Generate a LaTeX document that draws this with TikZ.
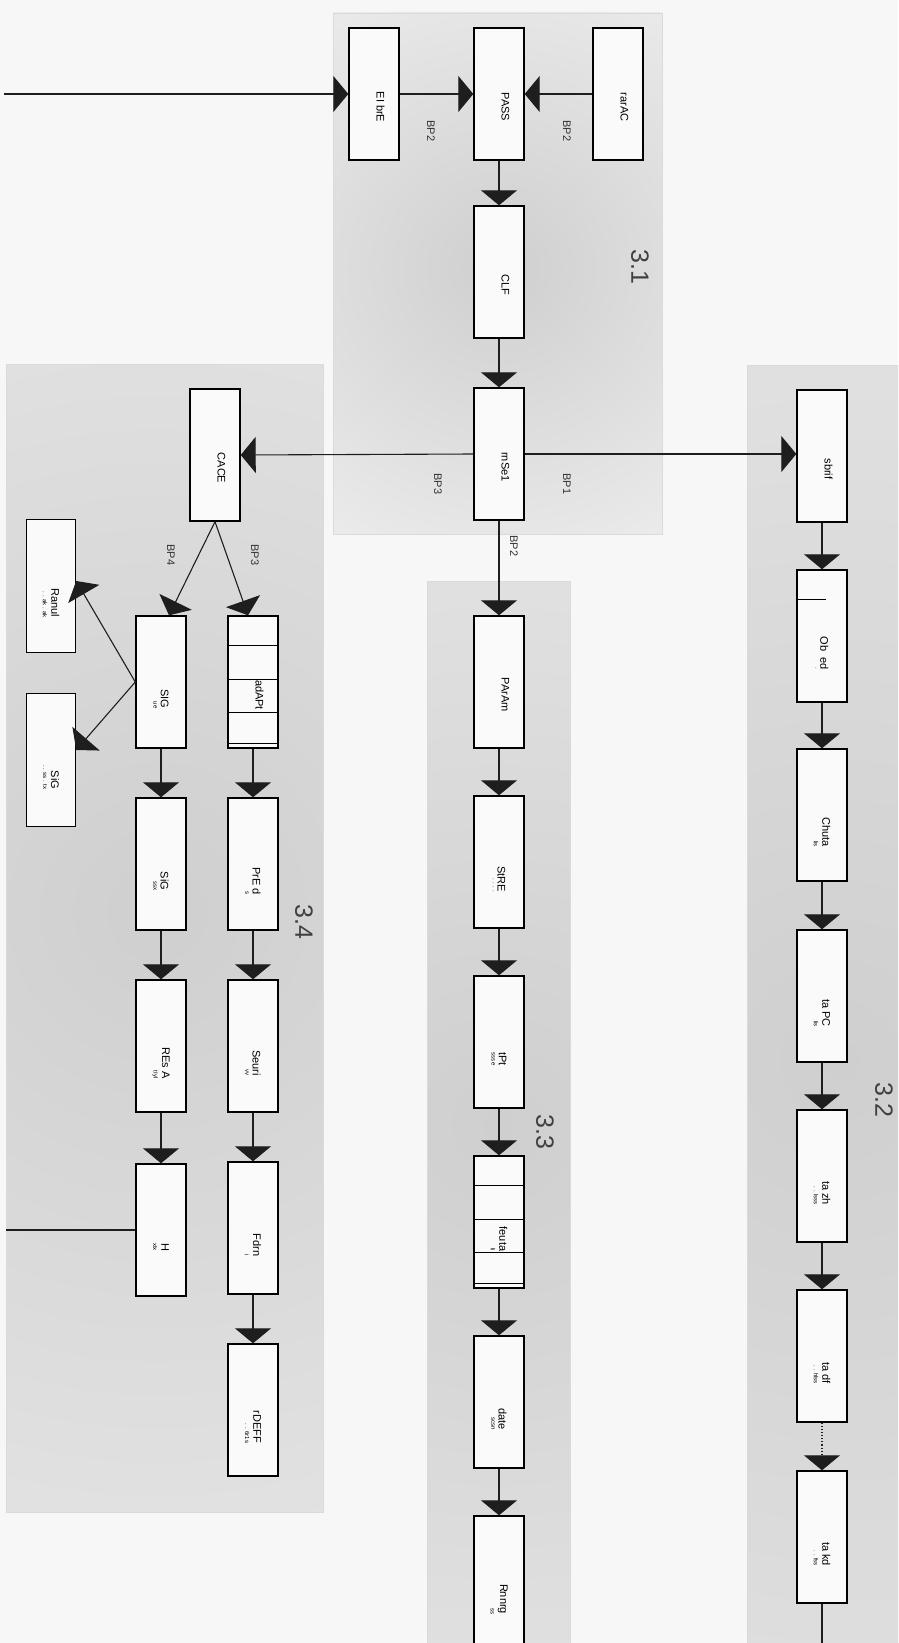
\documentclass[tikz,border=0pt]{standalone}
\usepackage{fontspec}
\setmainfont{Liberation Sans}
\usetikzlibrary{arrows.meta,calc}

\definecolor{pagebg}{HTML}{F7F7F7}
\definecolor{panelbg}{HTML}{EDEDED}
\definecolor{panelcore}{HTML}{CFCFCF}
\definecolor{panelline}{HTML}{DADADA}
\definecolor{boxfill}{HTML}{FAFAFA}
\definecolor{wire}{HTML}{1E1E1E}

\tikzset{
  stepbox/.style={draw=black, line width=1.4pt, fill=boxfill,
    minimum width=50pt, minimum height=132pt, inner sep=0pt,
    font=\fontsize{11}{12}\selectfont},
  smallbox/.style={stepbox, minimum width=49pt, minimum height=133pt},
  flow/.style={draw=wire, line width=1.1pt, -{Triangle[width=36pt,length=15pt]}},
  plain/.style={draw=wire, line width=1.1pt},
  divider/.style={draw=black, line width=1pt},
  bplabel/.style={font=\fontsize{11}{12}\selectfont, text=black!80, rotate=-90},
  paneltitle/.style={font=\fontsize{25}{27}\selectfont, text=black!75, rotate=-90},
  panelframe/.style={draw=panelline, line width=0.8pt},
}

% rotated caption inside a box: main word with a smaller second line
\newcommand{\boxcap}[2]{\rotatebox{-90}{\hspace*{34pt}\shortstack[r]{#1\\[1pt]{\fontsize{6}{6}\selectfont #2}}}}
\newcommand{\boxcapone}[1]{\rotatebox{-90}{\raisebox{13pt}{\hspace*{26pt}#1}}}

% a grey panel with a soft radial darkening
\newcommand{\shadedpanel}[5]{%
  \begin{scope}
    \clip (#1) rectangle (#2);
    \fill[panelbg] (#1) rectangle (#2);
    \shade[inner color=panelcore, outer color=panelbg] (#3,#4) circle[radius=#5pt];
  \end{scope}
  \draw[panelframe] (#1) rectangle (#2);
}

\begin{document}
\begin{tikzpicture}[x=1pt, y=-1pt]
  \useasboundingbox (0,0) rectangle (898,1643);
  \clip (0,0) rectangle (898,1643);
  \fill[pagebg] (0,0) rectangle (898,1643);

  % panels
  \shadedpanel{333,13}{662,534}{500}{268}{340}
  \shadedpanel{6,364}{323,1512}{157}{912}{1000}
  \shadedpanel{427,581}{570,1680}{498}{1125}{940}
  \shadedpanel{747,365}{940,1680}{840}{1060}{1200}

  % panel numbers
  \node[paneltitle] (t31) at (640,267) {3.1};
  \node[paneltitle] (t32) at (884,1100) {3.2};
  \node[paneltitle] (t33) at (545,1132) {3.3};
  \node[paneltitle] (t34) at (304,922) {3.4};

  % 3.1
  \node[stepbox] (eibr)  at (374,94)  {\boxcapone{EI brE}};
  \node[stepbox] (pass)  at (499,94)  {\boxcapone{PASS}};
  \node[stepbox] (rarac) at (618,94)  {\boxcapone{rarAC}};
  \node[stepbox] (clf)   at (499,272) {\boxcapone{CLF}};
  \node[stepbox] (rnsel) at (499,454) {\boxcapone{rnSe1}};

  % 3.3
  \node[stepbox] (param) at (499,682)  {\boxcapone{PArAm}};
  \node[stepbox] (stre)  at (499,862)  {\boxcap{StRE}{. . . .}};
  \node[stepbox] (tpt)   at (499,1042) {\boxcap{tPt}{sss e}};
  \node[stepbox] (feuta) at (499,1222) {\boxcap{feuta}{li}};
  \node[stepbox] (date)  at (499,1402) {\boxcap{date}{scsn}};
  \node[stepbox] (rnnrg) at (499,1582) {\boxcap{Rnnrg}{ss}};

  % 3.2
  \node[stepbox] (sbrif) at (822,456)  {\boxcapone{sbrif}};
  \node[stepbox] (ob)    at (822,636)  {\boxcap{Ob \ ed}{.}};
  \node[stepbox] (chuta) at (822,815)  {\boxcap{Chuta}{lis}};
  \node[stepbox] (tapc)  at (822,996)  {\boxcap{ta PC}{lis}};
  \node[stepbox] (tazh)  at (822,1176) {\boxcap{ta zh}{. . lsss}};
  \node[stepbox] (tadf)  at (822,1356) {\boxcap{ta df}{. . hlss}};
  \node[stepbox] (takd)  at (822,1537) {\boxcap{ta kd}{. . fss}};

  % 3.4
  \node[stepbox] (caca)  at (215,455)  {\boxcapone{CACE}};
  \node[stepbox] (sig)   at (161,682)  {\boxcap{SIG}{ue}};
  \node[stepbox] (adapt) at (253,682)  {\boxcapone{adAPt}};
  \node[stepbox] (sigb)  at (161,864)  {\boxcap{SiG}{ssx}};
  \node[stepbox] (pred)  at (253,864)  {\boxcap{PrE d}{s}};
  \node[stepbox] (resa)  at (161,1046) {\boxcap{REs A}{tIyl}};
  \node[stepbox] (seuri) at (253,1046) {\boxcap{Seuri}{vv}};
  \node[stepbox] (hbox)  at (161,1230) {\boxcap{H}{xIx}};
  \node[stepbox] (fdrn)  at (253,1228) {\boxcap{Fdrn}{i}};
  \node[stepbox] (rdeff) at (253,1410) {\boxcap{rDEFF}{. . 6r1s}};
  \node[smallbox] (ranul) at (51,586)  {\boxcap{Ranul}{. . ak . ak}};
  \node[smallbox] (sigs)  at (51,760)  {\boxcap{SiG}{. . ss . tx}};

  % partitions inside the segmented boxes
  \foreach \d in {30,64,97,128} {
    \draw[divider] ([yshift=-\d pt]adapt.north west) -- ([yshift=-\d pt]adapt.north east);
    \draw[divider] ([yshift=-\d pt]feuta.north west) -- ([yshift=-\d pt]feuta.north east);
  }
  \draw[divider] ([yshift=-30pt]ob.north west) -- ([yshift=-30pt,xshift=30pt]ob.north west);

  % free ends
  \coordinate (inA) at (4,94);
  \coordinate (outH) at (6,1230);
  \coordinate (outK) at (822,1660);

  % connectors of 3.1
  \draw[flow] (inA) -- (eibr.west);
  \draw[flow] (eibr.east) -- (pass.west);
  \draw[flow] (rarac.west) -- (pass.east);
  \draw[flow] (pass.south) -- (clf.north);
  \draw[flow] (clf.south) -- (rnsel.north);
  \draw[flow] (rnsel.west) -- (caca.east);
  \draw[flow] (rnsel.east) -- (sbrif.west |- rnsel.east);
  \draw[flow] (rnsel.south) -- (param.north);

  % connectors of 3.3
  \draw[flow] (param.south) -- (stre.north);
  \draw[flow] (stre.south) -- (tpt.north);
  \draw[flow] (tpt.south) -- (feuta.north);
  \draw[flow] (feuta.south) -- (date.north);
  \draw[flow] (date.south) -- (rnnrg.north);

  % connectors of 3.2
  \draw[flow] (sbrif.south) -- (ob.north);
  \draw[flow] (ob.south) -- (chuta.north);
  \draw[flow] (chuta.south) -- (tapc.north);
  \draw[flow] (tapc.south) -- (tazh.north);
  \draw[flow] (tazh.south) -- (tadf.north);
  \draw[flow, dotted] (tadf.south) -- (takd.north);
  \draw[plain] (takd.south) -- (outK);

  % connectors of 3.4
  \draw[flow] (caca.south) -- ([xshift=8pt]sig.north);
  \draw[flow] (caca.south) -- ([xshift=-5pt]adapt.north);
  \draw[flow] (sig.west) -- ([yshift=5pt]ranul.east);
  \draw[flow] (sig.west) -- ([yshift=10pt]sigs.east);
  \draw[flow] (sig.south) -- (sigb.north);
  \draw[flow] (sigb.south) -- (resa.north);
  \draw[flow] (resa.south) -- (hbox.north);
  \draw[flow] (adapt.south) -- (pred.north);
  \draw[flow] (pred.south) -- (seuri.north);
  \draw[flow] (seuri.south) -- (fdrn.north);
  \draw[flow] (fdrn.south) -- (rdeff.north);
  \draw[plain] (hbox.west) -- (outH);

  % branch labels
  \node[bplabel] (bpa) at (431,131) {BP2};
  \node[bplabel] (bpb) at (567,131) {BP2};
  \node[bplabel] (bpc) at (438,484) {BP3};
  \node[bplabel] (bpd) at (567,484) {BP1};
  \node[bplabel] (bpe) at (514,546) {BP2};
  \node[bplabel] (bpf) at (171,555) {BP4};
  \node[bplabel] (bpg) at (255,555) {BP3};
\end{tikzpicture}
\end{document}
